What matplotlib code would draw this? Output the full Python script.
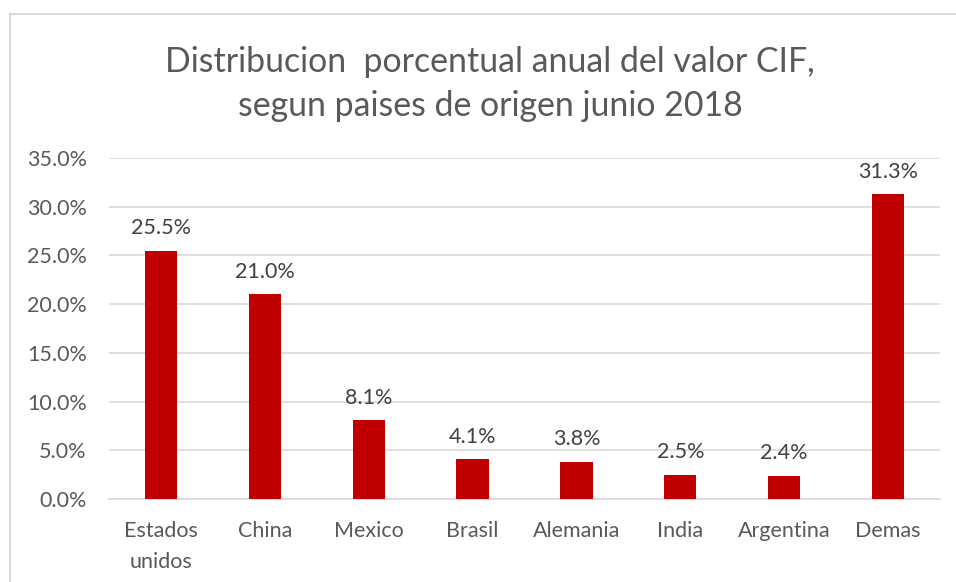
import matplotlib
matplotlib.use("Agg")
import matplotlib.pyplot as plt
from matplotlib.patches import Rectangle
from matplotlib.ticker import FuncFormatter

categories = ["Estados\nunidos", "China", "Mexico", "Brasil", "Alemania", "India", "Argentina", "Demas"]
values = [25.5, 21.0, 8.1, 4.1, 3.8, 2.5, 2.4, 31.3]
yticks = [0, 5, 10, 15, 20, 25, 30, 35]
title = "Distribucion  porcentual anual del valor CIF,\nsegun paises de origen junio 2018"

plt.rcParams['font.family'] = ['Lato', 'DejaVu Sans']

W, H = 956, 582
fig = plt.figure(figsize=(W / 100, H / 100), dpi=100)
fig.patch.set_facecolor("white")

# chart border
fig.patches.append(Rectangle((10 / W, -0.05), 1.2, 1 - 14 / H + 0.05, transform=fig.transFigure,
                             fill=False, edgecolor="#D9D9D9", linewidth=1.5))

ax = fig.add_axes([109 / W, 1 - 499 / H, (940 - 109) / W, (499 - 158) / H])
x = list(range(len(categories)))
ax.bar(x, values, width=0.31, color="#C00000", zorder=3)
ax.set_xlim(-0.5, len(categories) - 0.5)
ax.set_ylim(0, 35)
ax.set_yticks(yticks)
ax.yaxis.set_major_formatter(FuncFormatter(lambda v, p: f"{v:.1f}%"))
ax.set_xticks(x)
ax.set_xticklabels(categories, fontsize=15.5, color="#595959", linespacing=1.7)
ax.tick_params(axis="y", labelsize=15.5, labelcolor="#595959", length=0, pad=16)
ax.tick_params(axis="x", length=0, pad=16)
ax.grid(axis="y", color="#D9D9D9", linewidth=1.2, zorder=0)
for s in ["top", "right", "left"]:
    ax.spines[s].set_visible(False)
ax.spines["bottom"].set_color("#D9D9D9")
ax.spines["bottom"].set_linewidth(1.2)

for xi, v in zip(x, values):
    ax.annotate(f"{v:.1f}%", (xi, v), xytext=(0, 9), textcoords="offset points",
                ha="center", va="bottom", fontsize=15.5, color="#404040")

fig.text(490 / W, 1 - 84 / H, title, ha="center", va="center", fontsize=24.4,
         color="#595959", linespacing=1.45)

fig.savefig("out.png", dpi=100)
